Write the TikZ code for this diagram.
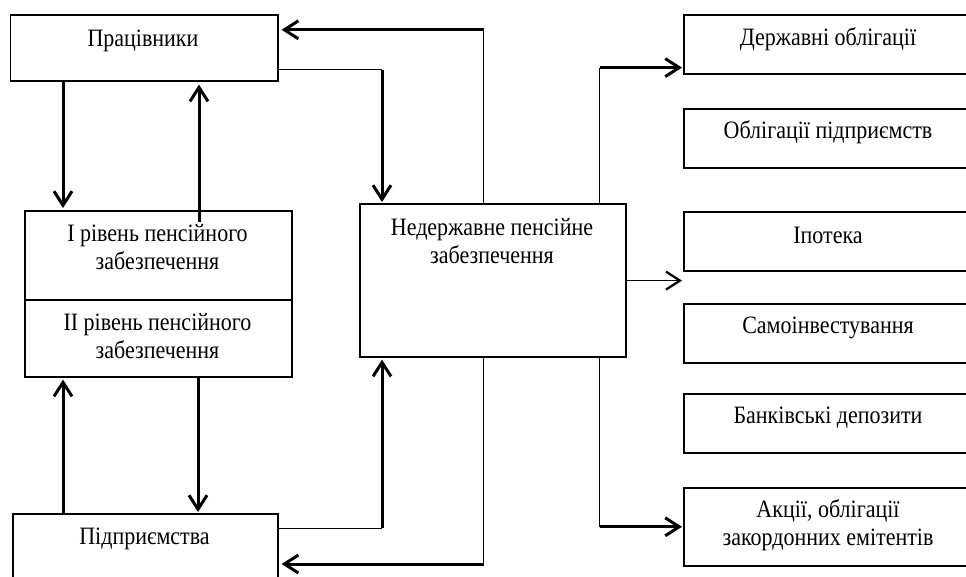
\documentclass[tikz,border=0pt]{standalone}
\usepackage{fontspec}
\setmainfont{Liberation Serif}[FakeStretch=0.88]
\usetikzlibrary{arrows.meta,calc}
\begin{document}
\begin{tikzpicture}[x=1pt,y=-1pt,
  box/.style={draw, line width=1.6pt, anchor=north west, inner sep=0pt},
  lbl/.style={font=\fontsize{25}{28}\selectfont, align=center, inner sep=0pt, anchor=base},
  thinln/.style={line width=1pt},
  arr/.style={line width=3pt, -{Straight Barb[length=14pt,width=18pt]}},
  tarr/.style={line width=1.3pt, -{Straight Barb[length=14pt,width=18pt,line width=2.2pt]}}]
\useasboundingbox (0,0) rectangle (966,576);
\begin{scope}
\clip (0,0) rectangle (966,576);
% boxes
\node[box, minimum width=267.5pt, minimum height=66pt] (prac) at (9.5,14) {};
\node[box, minimum width=267pt, minimum height=89pt] (lvl1) at (24,210) {};
\node[box, minimum width=267pt, minimum height=77pt] (lvl2) at (24,299) {};
\node[box, minimum width=265pt, minimum height=80pt] (pidp) at (12,513) {};
\node[box, minimum width=266pt, minimum height=153pt] (nedz) at (359,203) {};
\node[box, minimum width=290pt, minimum height=59pt] (d1) at (683,14) {};
\node[box, minimum width=290pt, minimum height=59pt] (d2) at (683,108) {};
\node[box, minimum width=290pt, minimum height=59pt] (d3) at (683,211) {};
\node[box, minimum width=290pt, minimum height=59pt] (d4) at (683,303) {};
\node[box, minimum width=290pt, minimum height=59pt] (d5) at (683,393) {};
\node[box, minimum width=290pt, minimum height=78pt] (d6) at (683,487) {};
% labels (anchored at the baseline of the last line)
\node[lbl] (t1) at (143,46) {Працівники};
\node[lbl] (t2) at (157.5,269) {І рівень пенсійного\\забезпечення};
\node[lbl] (t3) at (157.5,358) {ІІ рівень пенсійного\\забезпечення};
\node[lbl] (t4) at (144.5,544) {Підприємства};
\node[lbl] (t5) at (492,263) {Недержавне пенсійне\\забезпечення};
\node[lbl] (u1) at (828,45) {Державні облігації};
\node[lbl] (u2) at (828,138) {Облігації підприємств};
\node[lbl] (u3) at (828,243) {Іпотека};
\node[lbl] (u4) at (828,333) {Самоінвестування};
\node[lbl] (u5) at (828,423) {Банківські депозити};
\node[lbl] (u6) at (828,545) {Акції, облігації\\закордонних емітентів};
% left column arrows
\draw[arr] ([xshift=53.5pt]prac.south west) -- ([xshift=39pt,yshift=2pt]lvl1.north west);
\draw[arr] ([xshift=175pt,yshift=-12pt]lvl1.north west) -- ([xshift=189.5pt,yshift=-3pt]prac.south west);
\draw[arr] ([xshift=51pt]pidp.north west) -- ([xshift=39pt,yshift=-2pt]lvl2.south west);
\draw[arr] ([xshift=174pt]lvl2.south west) -- ([xshift=186pt,yshift=1pt]pidp.north west);
% prac -> nedz
\coordinate (p1) at ([yshift=12pt]prac.south east);
\coordinate (c1) at ([xshift=23pt,yshift=1pt]nedz.north west);
\coordinate (c1t) at (c1 |- p1);
\draw[thinln] (p1) -- (c1t);
\draw[arr] (c1t) -- (c1);
% nedz -> prac (top)
\coordinate (p2) at ([xshift=3pt,yshift=18pt]prac.east);
\coordinate (n1) at ([xshift=-9pt]nedz.north);
\coordinate (n1t) at (n1 |- p2);
\draw[thinln] (n1) -- (n1t);
\draw[arr] (n1t) -- (p2);
% pidp -> nedz
\coordinate (p3) at ([yshift=-15pt]pidp.north east);
\coordinate (c2) at ([xshift=23pt,yshift=-2pt]nedz.south west);
\coordinate (c2b) at (c2 |- p3);
\draw[thinln] (p3) -- (c2b);
\draw[arr] (c2b) -- (c2);
% nedz -> pidp (bottom)
\coordinate (p4) at ([xshift=3pt,yshift=-51pt]pidp.north east);
\coordinate (n2) at ([xshift=-9pt]nedz.south);
\coordinate (n2b) at (n2 |- p4);
\draw[thinln] (n2) -- (n2b);
\draw[arr] (n2b) -- (p4);
% nedz -> right column
\coordinate (q1) at ([xshift=-1pt,yshift=7pt]d1.south west);
\coordinate (n3) at ([xshift=-27pt]nedz.north east);
\coordinate (n3t) at (n3 |- q1);
\draw[thinln] (n3) -- (n3t);
\draw[arr] (n3t) -- (q1);
\coordinate (q3) at ([xshift=-1pt,yshift=-9pt]d3.south west);
\draw[tarr] (nedz.east |- q3) -- (q3);
\coordinate (q6) at ([xshift=-1pt]d6.west);
\coordinate (n4) at ([xshift=-27pt]nedz.south east);
\coordinate (n4b) at (n4 |- q6);
\draw[thinln] (n4) -- (n4b);
\draw[arr] (n4b) -- (q6);
\end{scope}
\end{tikzpicture}
\end{document}
